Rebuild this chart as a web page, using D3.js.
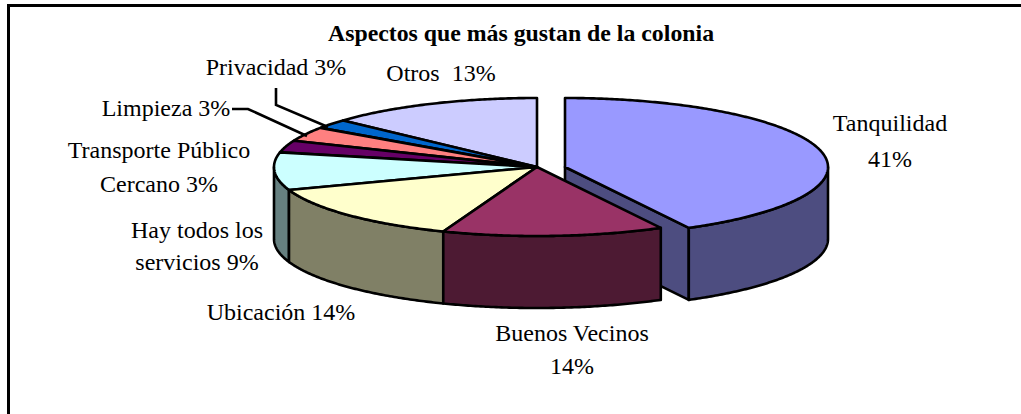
<!DOCTYPE html>
<html><head><meta charset="utf-8">
<script src="https://cdn.jsdelivr.net/npm/d3@7"></script>
<style>html,body{margin:0;padding:0;background:#fff}svg{display:block}text{font-family:"Liberation Serif","Times New Roman",serif;fill:#000}</style>
</head><body><div id="c"></div>
<script>
const categories=["Tanquilidad","Buenos Vecinos","Ubicación","Hay todos los servicios","Transporte Público Cercano","Limpieza","Privacidad","Otros"];
const printedPercent=[41,14,14,9,3,3,3,13];
const drawnShare=[42.2,13.6,13.8,8.8,2.8,3.4,2.2,13.2];
const topColors=["#9999FF","#993366","#FFFFCC","#CCFFFF","#660066","#FF8080","#0066CC","#CCCCFF"];
const sideColors=["#4D4D80","#4D1A33","#808066","#668080","#330033","#804040","#003366","#666680"];
const titleText="Aspectos que más gustan de la colonia";
const W=1021,H=414,cx=537,cy=167,rx=263,ry=69,depth=72,explodeX=28;

const svg=d3.select("#c").append("svg").attr("width",W).attr("height",H);
svg.append("path").attr("d",d3.line()([[8.5,414],[8.5,5.5],[1021,5.5]])).attr("fill","none").attr("stroke","#000").attr("stroke-width",3);

const sx=d3.scaleLinear().domain([-1,1]).range([-rx,rx]);
const sy=d3.scaleLinear().domain([-1,1]).range([-ry,ry]);
const arcs=d3.pie().sort(null).value(d=>d)(drawnShare);
const line=d3.line();
const px=a=>sx(Math.sin(a)),py=a=>sy(-Math.cos(a));
const samples=(a0,a1)=>{const n=Math.max(2,Math.ceil((a1-a0)/0.01));return d3.range(n+1).map(i=>a0+(a1-a0)*i/n);};
const style=(s,f)=>s.attr("fill",f).attr("stroke","#000").attr("stroke-width",2.6).attr("stroke-linejoin","round");

function drawSlice(i,ox){
  const g=svg.append("g").attr("transform",`translate(${cx+ox},${cy})`);
  const d=arcs[i];
  const a0=d.startAngle,a1=d.endAngle;
  if(ox>0){
    style(g.append("path").attr("d",line([[0,0],[px(a1),py(a1)],[px(a1),py(a1)+depth],[0,depth]])+"Z"),sideColors[i]);
  }
  const s0=Math.max(a0,Math.PI/2),s1=Math.min(a1,Math.PI*1.5);
  if(s1>s0){
    const top=samples(s0,s1).map(a=>[px(a),py(a)]);
    const bot=samples(s0,s1).reverse().map(a=>[px(a),py(a)+depth]);
    style(g.append("path").attr("d",line(top.concat(bot))+"Z"),sideColors[i]);
  }
  const rim=samples(a0,a1).map(a=>[px(a),py(a)]);
  style(g.append("path").attr("d",line([[0,0]].concat(rim))+"Z"),topColors[i]);
}
drawSlice(0,explodeX);
[7,6,5,4,3,2,1].forEach(i=>drawSlice(i,0));

const lead=p=>svg.append("path").attr("d",line(p)).attr("fill","none").attr("stroke","#000").attr("stroke-width",2.6);
lead([[276,88],[276,105],[328,127]]);
lead([[232,109],[248,109],[307,136]]);

svg.append("text").attr("x",521).attr("y",41).attr("text-anchor","middle").attr("font-size",23.8).attr("font-weight","bold").text(titleText);
const labels=[
 {x:890,y:[131,167],lines:[categories[0],printedPercent[0]+"%"]},
 {x:572,y:[341,374],lines:[categories[1],printedPercent[1]+"%"]},
 {x:281,y:[320],lines:[categories[2]+" "+printedPercent[2]+"%"]},
 {x:197,y:[238,270],lines:["Hay todos los","servicios "+printedPercent[3]+"%"]},
 {x:159,y:[158,192],lines:["Transporte Público","Cercano "+printedPercent[4]+"%"]},
 {x:166,y:[116],lines:[categories[5]+" "+printedPercent[5]+"%"]},
 {x:276,y:[75],lines:[categories[6]+" "+printedPercent[6]+"%"]},
 {x:441,y:[81],lines:[categories[7]+"  "+printedPercent[7]+"%"]}
];
labels.forEach(l=>l.lines.forEach((t,k)=>{
  svg.append("text").attr("x",l.x).attr("y",l.y[k]).attr("text-anchor","middle").attr("font-size",24).style("white-space","pre").text(t);
}));
</script></body></html>
